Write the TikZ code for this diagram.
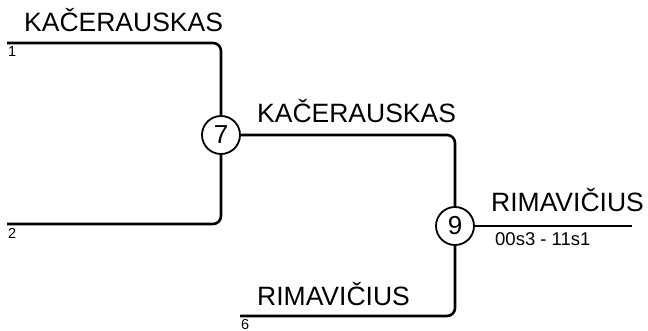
\documentclass[tikz,border=0pt]{standalone}
\usepackage{fontspec}
\setmainfont{Liberation Sans}
\begin{document}
\begin{tikzpicture}[x=1pt,y=-1pt,
  wire/.style={line width=2.6pt,rounded corners=8pt},
  seed/.style={circle,draw,line width=1.8pt,minimum size=38pt,inner sep=0pt,font=\fontsize{26}{30}\selectfont},
  big/.style={anchor=base west,inner sep=0pt,font=\fontsize{26.5}{30}\selectfont},
  small/.style={anchor=base west,inner sep=0pt,font=\fontsize{14.5}{16}\selectfont},
  score/.style={anchor=base west,inner sep=0pt,font=\fontsize{18.5}{20}\selectfont}]
\useasboundingbox (0,0) rectangle (648,331);
\coordinate (p1) at (7,43);
\coordinate (p2) at (7,224);
\coordinate (p6) at (240,316);
\node[seed] (c7) at (221,135) {7};
\node[seed] (c9) at (455,226) {9};
\coordinate (pend) at (632,226);
\draw[wire] (p1) -| (c7);
\draw[wire] (p2) -| (c7);
\draw[wire] (c7) -| (c9);
\draw[wire] (p6) -| (c9);
\draw[wire] (c9) -- (pend);
\node[big] (t1) at (24,32) {KAČERAUSKAS};
\node[small] (n1) at (8,57) {1};
\node[small] (n2) at (8,239) {2};
\node[big] (t7) at (257,123) {KAČERAUSKAS};
\node[big] (t9) at (491,212) {RIMAVIČIUS};
\node[score] (s9) at (495,246) {00s3 - 11s1};
\node[big] (t6) at (257,305) {RIMAVIČIUS};
\node[small] (n6) at (241,329) {6};
\end{tikzpicture}
\end{document}
